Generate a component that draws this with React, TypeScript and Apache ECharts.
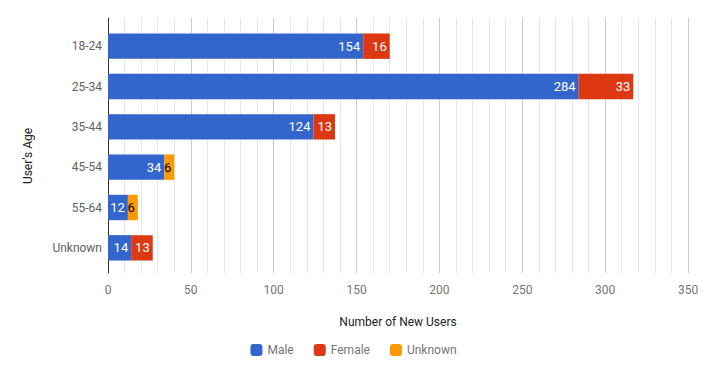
import React, { useEffect, useRef } from "react";
import * as echarts from "echarts";

const categories = ["18-24", "25-34", "35-44", "45-54", "55-64", "Unknown"];
const male = [154, 284, 124, 34, 12, 14];
const female: (number | null)[] = [16, 33, 13, null, null, 13];
const unknown: (number | null)[] = [null, null, null, 6, 6, null];
const seriesNames = ["Male", "Female", "Unknown"];
const colors = ["#3366cc", "#dc3912", "#ff9900"];
const labelColors = ["#ffffff", "#ffffff", "#000000"];
const yAxisTitle = "User's Age";
const xAxisTitle = "Number of New Users";

export default function App() {
  const ref = useRef<HTMLDivElement>(null);
  useEffect(() => {
    if (!ref.current) return;
    const chart = echarts.init(ref.current, null, { renderer: "svg" });
    const font = "Roboto, Arial, sans-serif";
    const data = [male, female, unknown];
    chart.setOption({
      animation: false,
      textStyle: { fontFamily: font },
      grid: [
        { left: 108, right: 19, top: 18, bottom: 102, containLabel: false },
        { left: 108, right: 19, top: 26, bottom: 107, containLabel: false },
      ],
      graphic: [
        {
          type: "text",
          x: 28,
          y: 156,
          rotation: Math.PI / 2,
          style: {
            text: yAxisTitle,
            fill: "#222",
            fontSize: 12,
            fontFamily: font,
            align: "center",
            verticalAlign: "middle",
          },
        },
      ],
      legend: {
        bottom: 14,
        left: "center",
        icon: "roundRect",
        itemWidth: 12,
        itemHeight: 12,
        itemGap: 20,
        textStyle: { color: "#757575", fontSize: 12, fontFamily: font },
        data: seriesNames,
      },
      xAxis: [
        {
          type: "value",
          gridIndex: 0,
          min: 0,
          max: 350,
          interval: 50,
          name: xAxisTitle,
          nameLocation: "middle",
          nameGap: 43,
          nameTextStyle: { color: "#222", fontSize: 12, fontFamily: font },
          axisLine: { show: false },
          axisTick: { show: false },
          axisLabel: { color: "#757575", fontSize: 12, margin: 11 },
          splitLine: { show: true, lineStyle: { color: "#cccccc", width: 1 } },
          minorTick: { show: false, splitNumber: 5 },
          minorSplitLine: { show: true, lineStyle: { color: "#e6e6e6", width: 1 } },
        },
        {
          type: "value",
          gridIndex: 1,
          min: 0,
          max: 350,
          interval: 50,
          show: false,
          splitLine: { show: false },
        },
      ],
      yAxis: [
        {
          type: "value",
          gridIndex: 0,
          min: 0,
          max: 1,
          axisLine: { show: true, onZero: false, lineStyle: { color: "#333", width: 1 } },
          axisTick: { show: false },
          axisLabel: { show: false },
          splitLine: { show: false },
        },
        {
          type: "category",
          gridIndex: 1,
          data: categories,
          inverse: true,
          axisLine: { show: false },
          axisTick: { show: false },
          axisLabel: { color: "#616161", fontSize: 12, margin: 6 },
          splitLine: { show: false },
        },
      ],
      series: seriesNames.map((name, i) => ({
        name,
        type: "bar",
        xAxisIndex: 1,
        yAxisIndex: 1,
        stack: "total",
        barCategoryGap: "37%",
        itemStyle: { color: colors[i] },
        label: {
          show: true,
          position: "insideRight",
          distance: 3,
          color: labelColors[i],
          fontSize: 13,
          fontFamily: font,
          formatter: (p: any) => (p.value == null || p.value === 0 ? "" : String(p.value)),
        },
        data: data[i],
      })),
    });
    return () => chart.dispose();
  }, []);
  return <div ref={ref} style={{ width: 707, height: 375, margin: -8 }} />;
}
